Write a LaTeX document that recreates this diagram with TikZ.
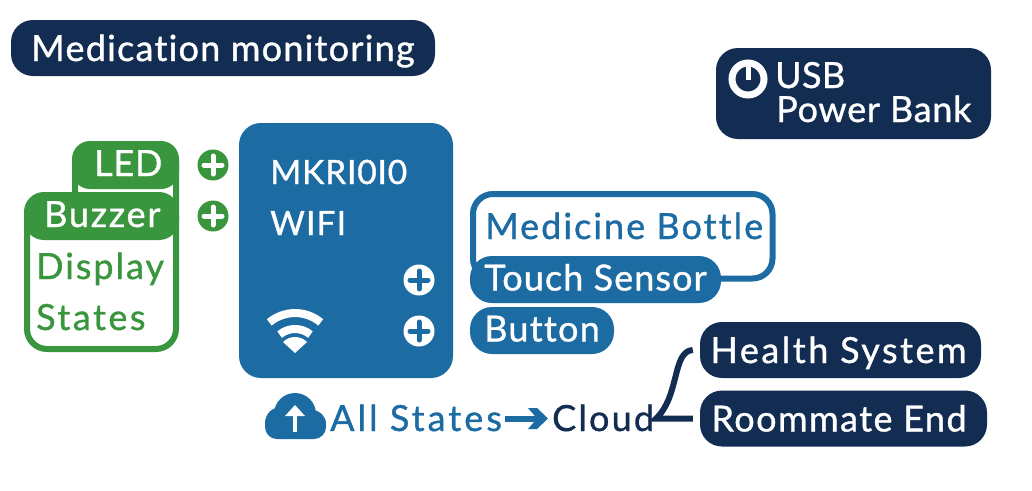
\documentclass[tikz,border=0pt]{standalone}
\usepackage{fontspec}
\setmainfont[LetterSpace=3.5,FakeBold=1,RawFeature={-liga;-dlig;-clig}]{Lato}
\usetikzlibrary{arrows.meta}
\definecolor{navy}{HTML}{132C52}
\definecolor{mblue}{HTML}{1C6BA3}
\definecolor{mgreen}{HTML}{3A963E}
\newcommand{\bigfont}{\fontsize{36}{40}\selectfont}
\newcommand{\midfont}{\fontsize{33.5}{40}\selectfont}
\newcommand{\wide}[1]{\addfontfeature{LetterSpace=#1}}
\tikzset{
  x=1pt,y=-1pt,
  pill/.style={fill=#1,text=white,inner sep=0pt,rounded corners=22pt,font=\bigfont,align=center},
  tallpill/.style={pill=#1,minimum height=56pt,text height=34pt,text depth=8pt},
  lowpill/.style={pill=#1,minimum height=47pt,text height=30pt,text depth=8pt},
  label/.style={text=#1,inner sep=0pt,anchor=base west,font=\bigfont},
  plusbadge/.style={circle,fill=#1,minimum size=31pt,inner sep=0pt},
  conn/.style={draw=navy,line width=6pt,line join=miter},
}
\newcommand{\plusmark}[3]{\draw[#3,line width=5pt,line cap=round] (#1-9,#2) -- (#1+9,#2) (#1,#2-9) -- (#1,#2+9);}
\begin{document}
\begin{tikzpicture}
\useasboundingbox (0,0) rectangle (1032,490);
% title
\node[tallpill=navy,minimum width=424pt] (title) at (223,48) {Medication monitoring};
% usb
\fill[navy,rounded corners=22pt] (716,48) rectangle (991,139);
\node[label=white] (usb) at (775,88) {\wide{1}USB};
\node[label=white] (bank) at (776,122) {\wide{2}Power Bank};
\draw[white,line width=7pt] (748,79) circle (16pt);
\draw[white,line width=5pt] (748,64) -- (748,80);
% green stack
\draw[mgreen,line width=6pt,fill=white,rounded corners=18pt] (75,144) rectangle (176,230);
\fill[mgreen,rounded corners=18pt] (72,141) rectangle (179,189);
\node[label=white] (led) at (94,176) {\wide{2}LED};
\draw[mgreen,line width=6pt,fill=white,rounded corners=20pt] (27,195) rectangle (176,349);
\fill[mgreen,rounded corners=20pt] (24,192) rectangle (179,240);
\node[label=white] (buzzer) at (44,227) {\wide{5}Buzzer};
\node[label=mgreen] (display) at (36,279) {\wide{5.5}Display};
\node[label=mgreen] (states) at (36,330) {\wide{7}States};
\node[plusbadge=mgreen] (p1) at (213,165) {};
\node[plusbadge=mgreen] (p2) at (213,216) {};
\plusmark{213}{165}{white}
\plusmark{213}{216}{white}
% board
\fill[mblue,rounded corners=22pt] (239,123) rectangle (453,378);
\node[label=white,font=\midfont] (mkr) at (270,184) {\wide{2.5}MKRI0I0};
\node[label=white,font=\midfont] (wifi) at (270,235) {WIFI};
\node[plusbadge=white] (p3) at (419,280) {};
\node[plusbadge=white] (p4) at (419,331) {};
\plusmark{419}{280}{mblue}
\plusmark{419}{331}{mblue}
% wifi icon
\fill[white] (295,353) -- (283,342) arc[start angle=135,end angle=45,radius=17pt] -- cycle;
\draw[white,line width=8pt] (279.6,334.6) arc[start angle=130,end angle=50,radius=24pt];
\draw[white,line width=8pt] (269.3,322.4) arc[start angle=130,end angle=50,radius=40pt];
% medicine
\draw[mblue,line width=6pt,fill=white,rounded corners=20pt] (473,194) rectangle (772.5,278.5);
\node[label=mblue] (med) at (485,239) {\wide{5.7}Medicine Bottle};
\node[lowpill=mblue,minimum width=251pt] (touch) at (595.5,279.5) {\wide{3}Touch Sensor};
\node[lowpill=mblue,minimum width=144pt] (button) at (542,330.5) {Button};
% health
\node[tallpill=navy,minimum width=281pt] (health) at (840.5,350) {\wide{7}Health System\kern 4pt};
\node[tallpill=navy,minimum width=287pt] (room) at (843.5,418.5) {\wide{4}Roommate End\kern 9pt};
% bottom
\fill[mblue,rounded corners=12pt] (265,413) rectangle (326,439);
\fill[mblue] (295,414) circle (21pt) (281,423) circle (16pt) (312,424) circle (14pt);
\draw[white,line width=4.5pt] (295,432) -- (295,413);
\fill[white] (285,416) -- (295,405) -- (305,416) -- cycle;
\node[label=mblue] (all) at (330,431) {\wide{8.5}All States};
\node[label=navy] (cloud) at (552,431) {\wide{6}Cloud};
\coordinate (arrowtip) at (548,418.5);
\draw[mblue,line width=6pt] (505,418.5) -- ([xshift=-6pt]arrowtip);
\fill[mblue] (arrowtip) -- ++(-11,-10.5) -- ++(-9,0) -- ++(9,10.5) -- ++(-9,10.5) -- ++(9,0) -- cycle;
\coordinate (hub) at (656,418.5);
\draw[conn] ([xshift=-7pt]health.west) .. controls (672,351) and (680,396) .. (hub) -- ([xshift=-7pt]room.west);
\end{tikzpicture}
\end{document}
